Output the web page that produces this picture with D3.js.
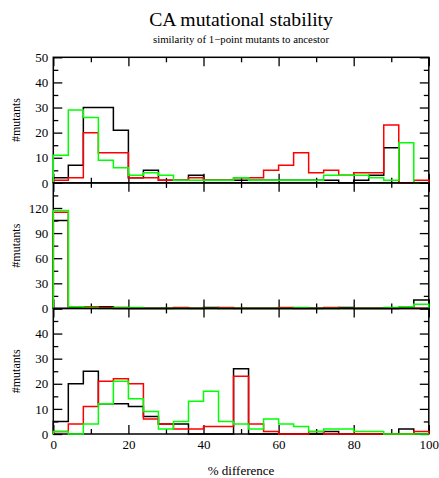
<!DOCTYPE html>
<html>
<head>
<meta charset="utf-8">
<script src="https://cdn.jsdelivr.net/npm/d3@7"></script>
<style>
  body { margin: 0; background: #fff; }
  text { font-family: "Liberation Serif", "Times New Roman", serif; }
</style>
</head>
<body>
<div id="chart"></div>
<script>
// bins of 4 % each (left edges)
var binStart = [0, 4, 8, 12, 16, 20, 24, 28, 32, 36, 40, 44, 48, 52, 56, 60, 64, 68, 72, 76, 80, 84, 88, 92, 96];
var binEnd = 100;

// top panel
var topBlack = [2, 7, 30, 30, 21, 2, 5, 1, 1, 3, 1, 1, 1, 1, 1, 1, 1, 1, 1, 0, 1, 3, 14, 0, 0];
var topRed   = [1, 2, 20, 12, 12, 2, 2, 1, 1, 2, 1, 1, 2, 2, 5, 7, 12, 4, 5, 3, 4, 4, 23, 0, 1];
var topGreen = [11, 29, 26, 9, 6, 3, 4, 3, 1, 1, 1, 1, 2, 1, 1, 1, 1, 1, 3, 3, 3, 2, 1, 16, 0];

// middle panel
var midBlack = [105, 2, 2, 2, 0, 0, 0, 0, 0, 0, 1, 0, 0, 0, 0, 0, 0, 0, 0, 1, 0, 0, 0, 2, 10];
var midRed   = [115, 2, 2, 1, 1, 0, 0, 0, 1, 0, 0, 1, 0, 0, 0, 1, 0, 0, 1, 0, 0, 0, 0, 0, 0];
var midGreen = [117, 2, 1, 0, 1, 1, 0, 0, 0, 0, 0, 0, 0, 0, 0, 0, 1, 0, 0, 0, 0, 0, 1, 2, 5];

// bottom panel
var botBlack = [5, 20, 25, 12, 12, 11, 7, 4, 4, 0, 0, 0, 26, 0, 0, 0, 0, 0, 1, 0, 0, 0, 0, 2, 0];
var botRed   = [1, 4, 11, 21, 22, 20, 6, 4, 2, 2, 3, 3, 23, 4, 1, 0, 0, 1, 0, 0, 0, 0, 0, 0, 1];
var botGreen = [1, 0, 4, 12, 21, 14, 9, 2, 5, 13, 17, 5, 4, 2, 6, 4, 3, 1, 2, 2, 1, 1, 0, 0, 0];

// ticks
var xMajor = [0, 20, 40, 60, 80, 100];
var xMinor = [10, 30, 50, 70, 90];
var topYMajor = [0, 10, 20, 30, 40, 50];
var midYMajor = [0, 30, 60, 90, 120, 150];
var botYMajor = [0, 10, 20, 30, 40, 50];
var topYLabels = ["0", "10", "20", "30", "40", "50"];
var midYLabels = ["0", "30", "60", "90", "120", ""];
var botYLabels = ["0", "10", "20", "30", "40", ""];

var seriesColors = ["#000000", "#ff0000", "#00ff00"];

var width = 439, height = 478;
var left = 53.3, right = 428.8, plotTop = 57.3, plotBottom = 434;
var panelH = (plotBottom - plotTop) / 3;

var svg = d3.select("#chart")
    .append("svg")
    .attr("width", width)
    .attr("height", height);

var x = d3.scaleLinear().domain([0, 100]).range([left, right]);

// title
svg.append("text")
    .attr("x", (left + right) / 2)
    .attr("y", 26)
    .attr("text-anchor", "middle")
    .style("font-size", "19.7px")
    .text("CA mutational stability");

svg.append("text")
    .attr("x", (left + right) / 2)
    .attr("y", 43)
    .attr("text-anchor", "middle")
    .style("font-size", "10.8px")
    .text("similarity of 1\u2212point mutants to ancestor");

// x label
svg.append("text")
    .attr("x", (left + right) / 2)
    .attr("y", 475)
    .attr("text-anchor", "middle")
    .style("font-size", "13px")
    .text("% difference");

var panels = [
    { max: 50, major: topYMajor, labels: topYLabels, series: [topBlack, topRed, topGreen] },
    { max: 150, major: midYMajor, labels: midYLabels, series: [midBlack, midRed, midGreen] },
    { max: 50, major: botYMajor, labels: botYLabels, series: [botBlack, botRed, botGreen] }
];

var line = d3.line()
    .x(function (d) { return x(d[0]); })
    .curve(d3.curveStepAfter);

panels.forEach(function (p, pi) {
    var y0 = plotTop + panelH * (pi + 1), y1 = plotTop + panelH * pi;
    var y = d3.scaleLinear().domain([0, p.max]).range([y0, y1]);
    var step = p.major[1] - p.major[0];
    var yMinor = p.major.slice(0, -1).map(function (v) { return v + step / 2; });
    var g = svg.append("g");

    // frame
    g.append("rect")
        .attr("x", left).attr("y", y1)
        .attr("width", right - left).attr("height", y0 - y1)
        .attr("fill", "none").attr("stroke", "#000").attr("stroke-width", 1.5);

    function styleAxis(sel) {
        sel.select(".domain").remove();
        sel.selectAll("line").attr("stroke", "#000").attr("stroke-width", 1.3);
        sel.selectAll("text").style("font-size", "13px").attr("fill", "#000")
            .style("font-family", "'Liberation Serif', 'Times New Roman', serif");
    }

    // x ticks bottom
    g.append("g").attr("transform", "translate(0," + y0 + ")")
        .call(d3.axisBottom(x).tickValues(xMajor).tickSize(-9).tickSizeOuter(0).tickPadding(6)
            .tickFormat(pi === 2 ? d3.format("d") : function () { return ""; }))
        .call(styleAxis);
    g.append("g").attr("transform", "translate(0," + y0 + ")")
        .call(d3.axisBottom(x).tickValues(xMinor).tickSize(-5).tickSizeOuter(0).tickFormat(""))
        .call(styleAxis);
    // x ticks top
    g.append("g").attr("transform", "translate(0," + y1 + ")")
        .call(d3.axisTop(x).tickValues(xMajor).tickSize(-9).tickSizeOuter(0).tickFormat(""))
        .call(styleAxis);
    g.append("g").attr("transform", "translate(0," + y1 + ")")
        .call(d3.axisTop(x).tickValues(xMinor).tickSize(-5).tickSizeOuter(0).tickFormat(""))
        .call(styleAxis);
    // y ticks left
    g.append("g").attr("transform", "translate(" + left + ",0)")
        .call(d3.axisLeft(y).tickValues(p.major).tickSize(-9).tickSizeOuter(0).tickPadding(5)
            .tickFormat(function (d, i) { return p.labels[i]; }))
        .call(styleAxis);
    g.append("g").attr("transform", "translate(" + left + ",0)")
        .call(d3.axisLeft(y).tickValues(yMinor).tickSize(-5).tickSizeOuter(0).tickFormat(""))
        .call(styleAxis);
    // y ticks right
    g.append("g").attr("transform", "translate(" + right + ",0)")
        .call(d3.axisRight(y).tickValues(p.major).tickSize(-9).tickSizeOuter(0).tickFormat(""))
        .call(styleAxis);
    g.append("g").attr("transform", "translate(" + right + ",0)")
        .call(d3.axisRight(y).tickValues(yMinor).tickSize(-5).tickSizeOuter(0).tickFormat(""))
        .call(styleAxis);

    // y label
    g.append("text")
        .attr("transform", "translate(20," + ((y0 + y1) / 2) + ") rotate(-90)")
        .attr("text-anchor", "middle")
        .style("font-size", "12px")
        .text("#mutants");

    // histograms as step outlines
    line.y(function (d) { return y(d[1]); });
    p.series.forEach(function (vals, si) {
        var pts = [[binStart[0], 0]];
        binStart.forEach(function (b, i) { pts.push([b, vals[i]]); });
        pts.push([binEnd, vals[vals.length - 1]]);
        pts.push([binEnd, 0]);
        g.append("path")
            .attr("d", line(pts))
            .attr("fill", "none")
            .attr("stroke", seriesColors[si])
            .attr("stroke-width", 1.5);
    });
});
</script>
</body>
</html>
